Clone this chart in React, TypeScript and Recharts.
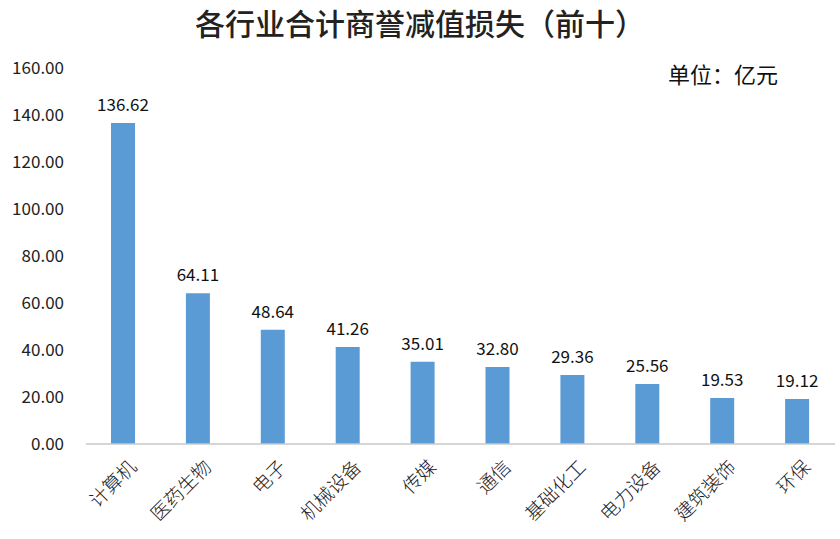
import { BarChart, Bar, XAxis, YAxis, LabelList } from "recharts";

const industries = [
  "计算机", "医药生物", "电子", "机械设备", "传媒",
  "通信", "基础化工", "电力设备", "建筑装饰", "环保",
];
const losses = [136.62, 64.11, 48.64, 41.26, 35.01, 32.8, 29.36, 25.56, 19.53, 19.12];
const yTicks = [0, 20, 40, 60, 80, 100, 120, 140, 160];

const data = industries.map((name, i) => ({ name, value: losses[i] }));

const FONT = '"Noto Sans CJK SC", "Noto Sans", sans-serif';

// 斜45度的行业标签
function AngledTick(props: any) {
  const { x, y, payload } = props;
  return (
    <g transform={`translate(${x + 10},${y + 12})`}>
      <text
        textAnchor="end"
        transform="rotate(-45)"
        fontSize={19}
        fontWeight={300}
        fill="#222"
        fontFamily={FONT}
        dy={6}
      >
        {payload.value}
      </text>
    </g>
  );
}

export default function App() {
  return (
    <div
      style={{
        position: "absolute",
        left: 0,
        top: 0,
        width: 840,
        height: 539,
        background: "#fff",
        fontFamily: FONT,
      }}
    >
      <div
        style={{
          position: "absolute",
          top: 0,
          left: 0,
          width: 840,
          textAlign: "center",
          fontSize: 30,
          fontWeight: 500,
          color: "#222",
        }}
      >
        各行业合计商誉减值损失（前十）
      </div>
      <div
        style={{
          position: "absolute",
          top: 57,
          left: 668,
          fontSize: 22,
          color: "#111",
        }}
      >
        单位：亿元
      </div>
      <BarChart
        width={840}
        height={539}
        data={data}
        margin={{ top: 68, right: 5, left: 16, bottom: 5 }}
      >
        <YAxis
          width={70}
          domain={[0, 160]}
          ticks={yTicks}
          axisLine={false}
          tickLine={false}
          tickSize={0}
          tickMargin={22}
          tickFormatter={(v) => Number(v).toFixed(2)}
          tick={{ fontSize: 17, fill: "#222", fontFamily: FONT }}
        />
        <XAxis
          dataKey="name"
          height={90}
          interval={0}
          tickLine={false}
          axisLine={{ stroke: "#c8c8c8", strokeWidth: 1.5 }}
          tick={<AngledTick />}
        />
        <Bar dataKey="value" fill="#5b9bd5" barSize={24} isAnimationActive={false}>
          <LabelList
            dataKey="value"
            position="top"
            offset={12}
            formatter={(v: any) => Number(v).toFixed(2)}
            style={{ fontSize: 17, fill: "#111", fontFamily: FONT }}
          />
        </Bar>
      </BarChart>
    </div>
  );
}
